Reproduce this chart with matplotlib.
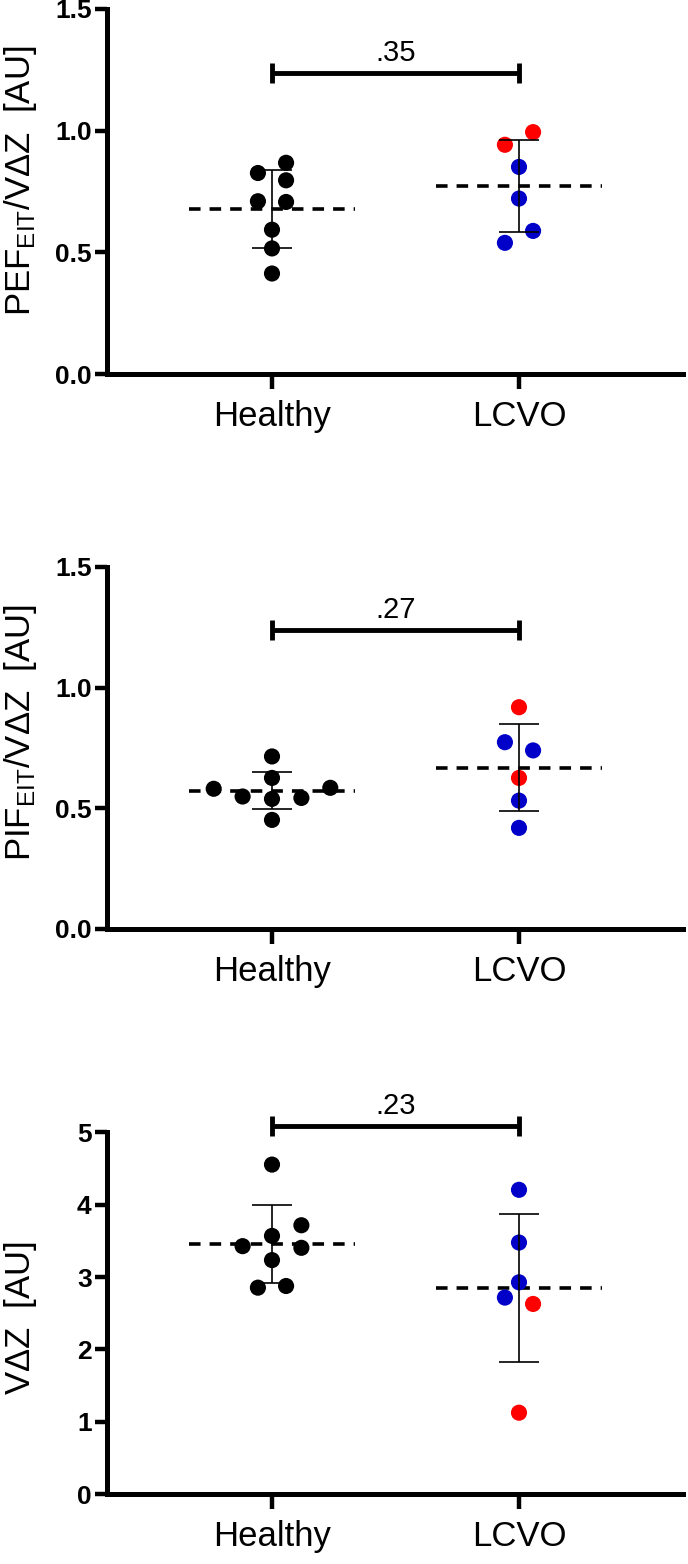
import numpy as np
import matplotlib
matplotlib.use("Agg")
import matplotlib.pyplot as plt

plt.rcParams['font.family'] = ['Liberation Sans', 'DejaVu Sans']
plt.rcParams['mathtext.default'] = 'regular'

# group names
groups = ['Healthy', 'LCVO']

# PEF_EIT / VdZ
pef_healthy = [0.868, 0.826, 0.796, 0.710, 0.707, 0.593, 0.516, 0.413]
pef_healthy_dx = [0.057, -0.057, 0.057, -0.057, 0.057, 0, 0, 0]
pef_lcvo = [0.994, 0.942, 0.851, 0.721, 0.588, 0.539]
pef_lcvo_col = ['r', 'r', 'b', 'b', 'b', 'b']
pef_lcvo_dx = [0.057, -0.057, 0, 0, 0.057, -0.057]

# PIF_EIT / VdZ
pif_healthy = [0.715, 0.626, 0.581, 0.585, 0.549, 0.543, 0.539, 0.452]
pif_healthy_dx = [0, 0, -0.236, 0.236, -0.119, 0.119, 0, 0]
pif_lcvo = [0.919, 0.774, 0.740, 0.626, 0.532, 0.419]
pif_lcvo_col = ['r', 'b', 'b', 'r', 'b', 'b']
pif_lcvo_dx = [0, -0.057, 0.057, 0, 0, 0]

# VdZ
vdz_healthy = [4.555, 3.716, 3.569, 3.427, 3.404, 3.234, 2.853, 2.876]
vdz_healthy_dx = [0, 0.119, 0, -0.119, 0.119, 0, -0.057, 0.057]
vdz_lcvo = [4.206, 3.477, 2.927, 2.716, 2.628, 1.124]
vdz_lcvo_col = ['b', 'b', 'b', 'b', 'r', 'r']
vdz_lcvo_dx = [0, 0, 0, -0.057, 0.057, 0]

p_values = ['.35', '.27', '.23']

colour_map = {'k': 'black', 'r': '#ff0000', 'b': '#0000c8'}

W, H = 688, 1564
fig = plt.figure(figsize=(W / 100, H / 100), dpi=100)


def px_axes(left, top, right, bottom):
    return fig.add_axes([left / W, 1 - bottom / H, (right - left) / W, (bottom - top) / H])


def draw_panel(ax, healthy, healthy_dx, lcvo, lcvo_dx, lcvo_col, ylim, yticks, ticklabels,
               ylabel, label_y, bracket_y, bracket_d, text_gap, pval):
    ax.set_xlim(-0.668, 1.664)
    ax.set_ylim(*ylim)
    for i, (vals, dx, cols) in enumerate([(healthy, healthy_dx, ['k'] * len(healthy)),
                                          (lcvo, lcvo_dx, lcvo_col)]):
        vals = np.array(vals)
        m = vals.mean()
        sd = vals.std(ddof=1)
        ax.plot([i - 0.335, i + 0.335], [m, m], color='black', lw=2.6,
                ls=(0, (3.2, 2.5)), zorder=1)
        ax.scatter(i + np.array(dx), vals, s=135, c=[colour_map[c] for c in cols],
                   edgecolors='none', zorder=3)
        ax.errorbar([i], [m], yerr=[sd], fmt='none', ecolor='black', elinewidth=1.2,
                    capsize=14.5, capthick=1.2, zorder=4)

    # significance bracket
    ax.plot([0, 1], [bracket_y, bracket_y], color='black', lw=3.5, solid_capstyle='butt',
            clip_on=False)
    ax.vlines([0, 1], bracket_y - bracket_d, bracket_y + bracket_d, color='black', lw=3.5,
              clip_on=False)
    ax.text(0.5, bracket_y + text_gap, pval, ha='center', va='bottom', fontsize=21)

    for s in ['top', 'right']:
        ax.spines[s].set_visible(False)
    ax.spines['left'].set_linewidth(3.6)
    ax.spines['bottom'].set_linewidth(3.6)
    ax.spines['left'].set_bounds(0, yticks[-1])

    ax.set_yticks(yticks)
    ax.set_yticklabels(ticklabels, fontweight='bold', fontsize=19)
    ax.set_xticks([0, 1])
    ax.set_xticklabels(groups, fontsize=25)
    ax.tick_params(axis='y', length=9, width=3.2, pad=2)
    ax.tick_params(axis='x', length=11, width=3.2, pad=8)
    ax.set_ylabel(ylabel, fontsize=25)
    ax.yaxis.set_label_coords(-0.118, label_y)


ax1 = px_axes(107, 9, 683, 374)
draw_panel(ax1, pef_healthy, pef_healthy_dx, pef_lcvo, pef_lcvo_dx, pef_lcvo_col,
           (0, 1.5), [0, 0.5, 1.0, 1.5], ['0.0', '0.5', '1.0', '1.5'],
           r'PEF$_{EIT}$/V$\Delta$Z  [AU]', 0.53, 1.236, 0.041, 0.025, p_values[0])

ax2 = px_axes(107, 567, 683, 929)
draw_panel(ax2, pif_healthy, pif_healthy_dx, pif_lcvo, pif_lcvo_dx, pif_lcvo_col,
           (0, 1.5), [0, 0.5, 1.0, 1.5], ['0.0', '0.5', '1.0', '1.5'],
           r'PIF$_{EIT}$/V$\Delta$Z  [AU]', 0.544, 1.240, 0.041, 0.025, p_values[1])

ax3 = px_axes(107, 1089, 683, 1494)
draw_panel(ax3, vdz_healthy, vdz_healthy_dx, vdz_lcvo, vdz_lcvo_dx, vdz_lcvo_col,
           (0, 5.6), [0, 1, 2, 3, 4, 5], ['0', '1', '2', '3', '4', '5'],
           r'V$\Delta$Z  [AU]', 0.434, 5.09, 0.14, 0.085, p_values[2])

fig.savefig('out.png', dpi=100)
